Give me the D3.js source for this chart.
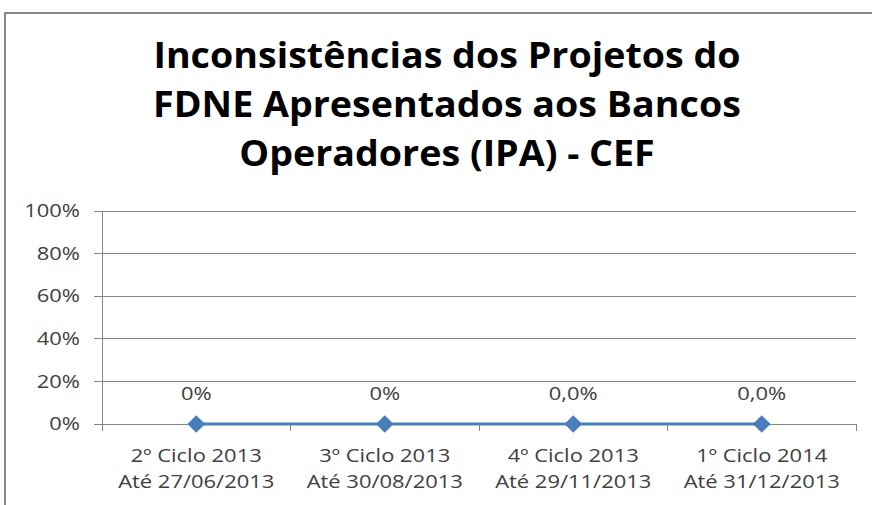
<!DOCTYPE html>
<html><head><meta charset="utf-8">
<script src="https://cdn.jsdelivr.net/npm/d3@7"></script>
<style>body{margin:0;background:#fff}svg{display:block}</style>
</head><body>
<script>
const titleLines = ["Inconsistências dos Projetos do", "FDNE Apresentados aos Bancos", "Operadores (IPA) - CEF"];
const categories = [["2º Ciclo 2013","Até 27/06/2013"],["3º Ciclo 2013","Até 30/08/2013"],["4º Ciclo 2013","Até 29/11/2013"],["1º Ciclo 2014","Até 31/12/2013"]];
const values = [0, 0, 0, 0];
const valueLabels = ["0%", "0%", "0,0%", "0,0%"];
const yTicks = [0, 0.2, 0.4, 0.6, 0.8, 1.0];

const W = 872, H = 505;
const font = "'Open Sans', 'Liberation Sans', sans-serif";
const SX = 1.22;   // horizontal stretch of the axis text
const TSX = 1.075; // horizontal stretch of the title
const svg = d3.select("body").append("svg").attr("width", W).attr("height", H);

svg.append("rect").attr("x", 5).attr("y", 13).attr("width", 900).attr("height", 600)
  .attr("fill", "#fff").attr("stroke", "#868686").attr("stroke-width", 2);

const pL = 102, pR = 856, pT = 211, pB = 424;
const x = d3.scaleBand().domain(d3.range(categories.length)).range([pL, pR]);
const y = d3.scaleLinear().domain([0, 1]).range([pB, pT]);

// title
const tlines = [68, 117, 166];
titleLines.forEach((t, i) => {
  svg.append("text").attr("transform", `translate(447,${tlines[i]}) scale(${TSX},1)`).attr("text-anchor", "middle")
    .attr("font-family", font).attr("font-weight", "bold").attr("font-size", 35)
    .attr("fill", "#000").text(t);
});

// gridlines
const g = svg.append("g");
g.selectAll("line.grid").data(yTicks).join("line")
  .attr("x1", pL - 8).attr("x2", pR).attr("y1", d => y(d)).attr("y2", d => y(d))
  .attr("stroke", "#868686").attr("stroke-width", 1).attr("shape-rendering", "crispEdges");

// y axis
const yAxis = d3.axisLeft(y).tickValues(yTicks).tickFormat(d3.format(".0%")).tickSize(0).tickPadding(22);
const ya = svg.append("g").attr("transform", `translate(${pL},0)`).call(yAxis);
ya.select(".domain").attr("stroke", "#868686").attr("shape-rendering", "crispEdges");
ya.selectAll("text").attr("font-family", font).attr("font-size", 18).attr("fill", "#404040")
  .attr("x", -22 / SX).attr("transform", `scale(${SX},1)`);

// x axis
const xa = svg.append("g").attr("transform", `translate(0,${pB})`);
xa.append("line").attr("x1", pL).attr("x2", pR).attr("stroke", "#868686").attr("shape-rendering", "crispEdges");
const edges = d3.range(categories.length + 1).map(i => i < categories.length ? x(i) : x(i - 1) + x.bandwidth());
xa.selectAll("line.tick").data(edges).join("line")
  .attr("x1", d => d).attr("x2", d => d).attr("y1", 0).attr("y2", 7)
  .attr("stroke", "#868686").attr("shape-rendering", "crispEdges");
categories.forEach((c, i) => {
  const t = xa.append("text").attr("text-anchor", "middle").attr("font-family", font)
    .attr("font-size", 18).attr("fill", "#404040")
    .attr("transform", `translate(${x(i) + x.bandwidth() / 2},0) scale(${SX},1)`);
  t.append("tspan").attr("x", 0).attr("y", 38).text(c[0]);
  t.append("tspan").attr("x", 0).attr("y", 64).text(c[1]);
});

// line
const cx = i => x(i) + x.bandwidth() / 2;
svg.append("path").datum(values)
  .attr("d", d3.line().x((d, i) => cx(i)).y(d => y(d)))
  .attr("fill", "none").attr("stroke", "#4A7EBB").attr("stroke-width", 3);
svg.selectAll("path.mk").data(values).join("path")
  .attr("d", d3.symbol(d3.symbolDiamond2, 200))
  .attr("transform", (d, i) => `translate(${cx(i)},${y(d)})`)
  .attr("fill", "#4A7EBB");
svg.selectAll("text.dl").data(values).join("text")
  .attr("transform", (d, i) => `translate(${cx(i)},${y(d) - 24}) scale(${SX},1)`).attr("text-anchor", "middle")
  .attr("font-family", font).attr("font-size", 18).attr("fill", "#404040")
  .text((d, i) => valueLabels[i]);
</script>
</body></html>
